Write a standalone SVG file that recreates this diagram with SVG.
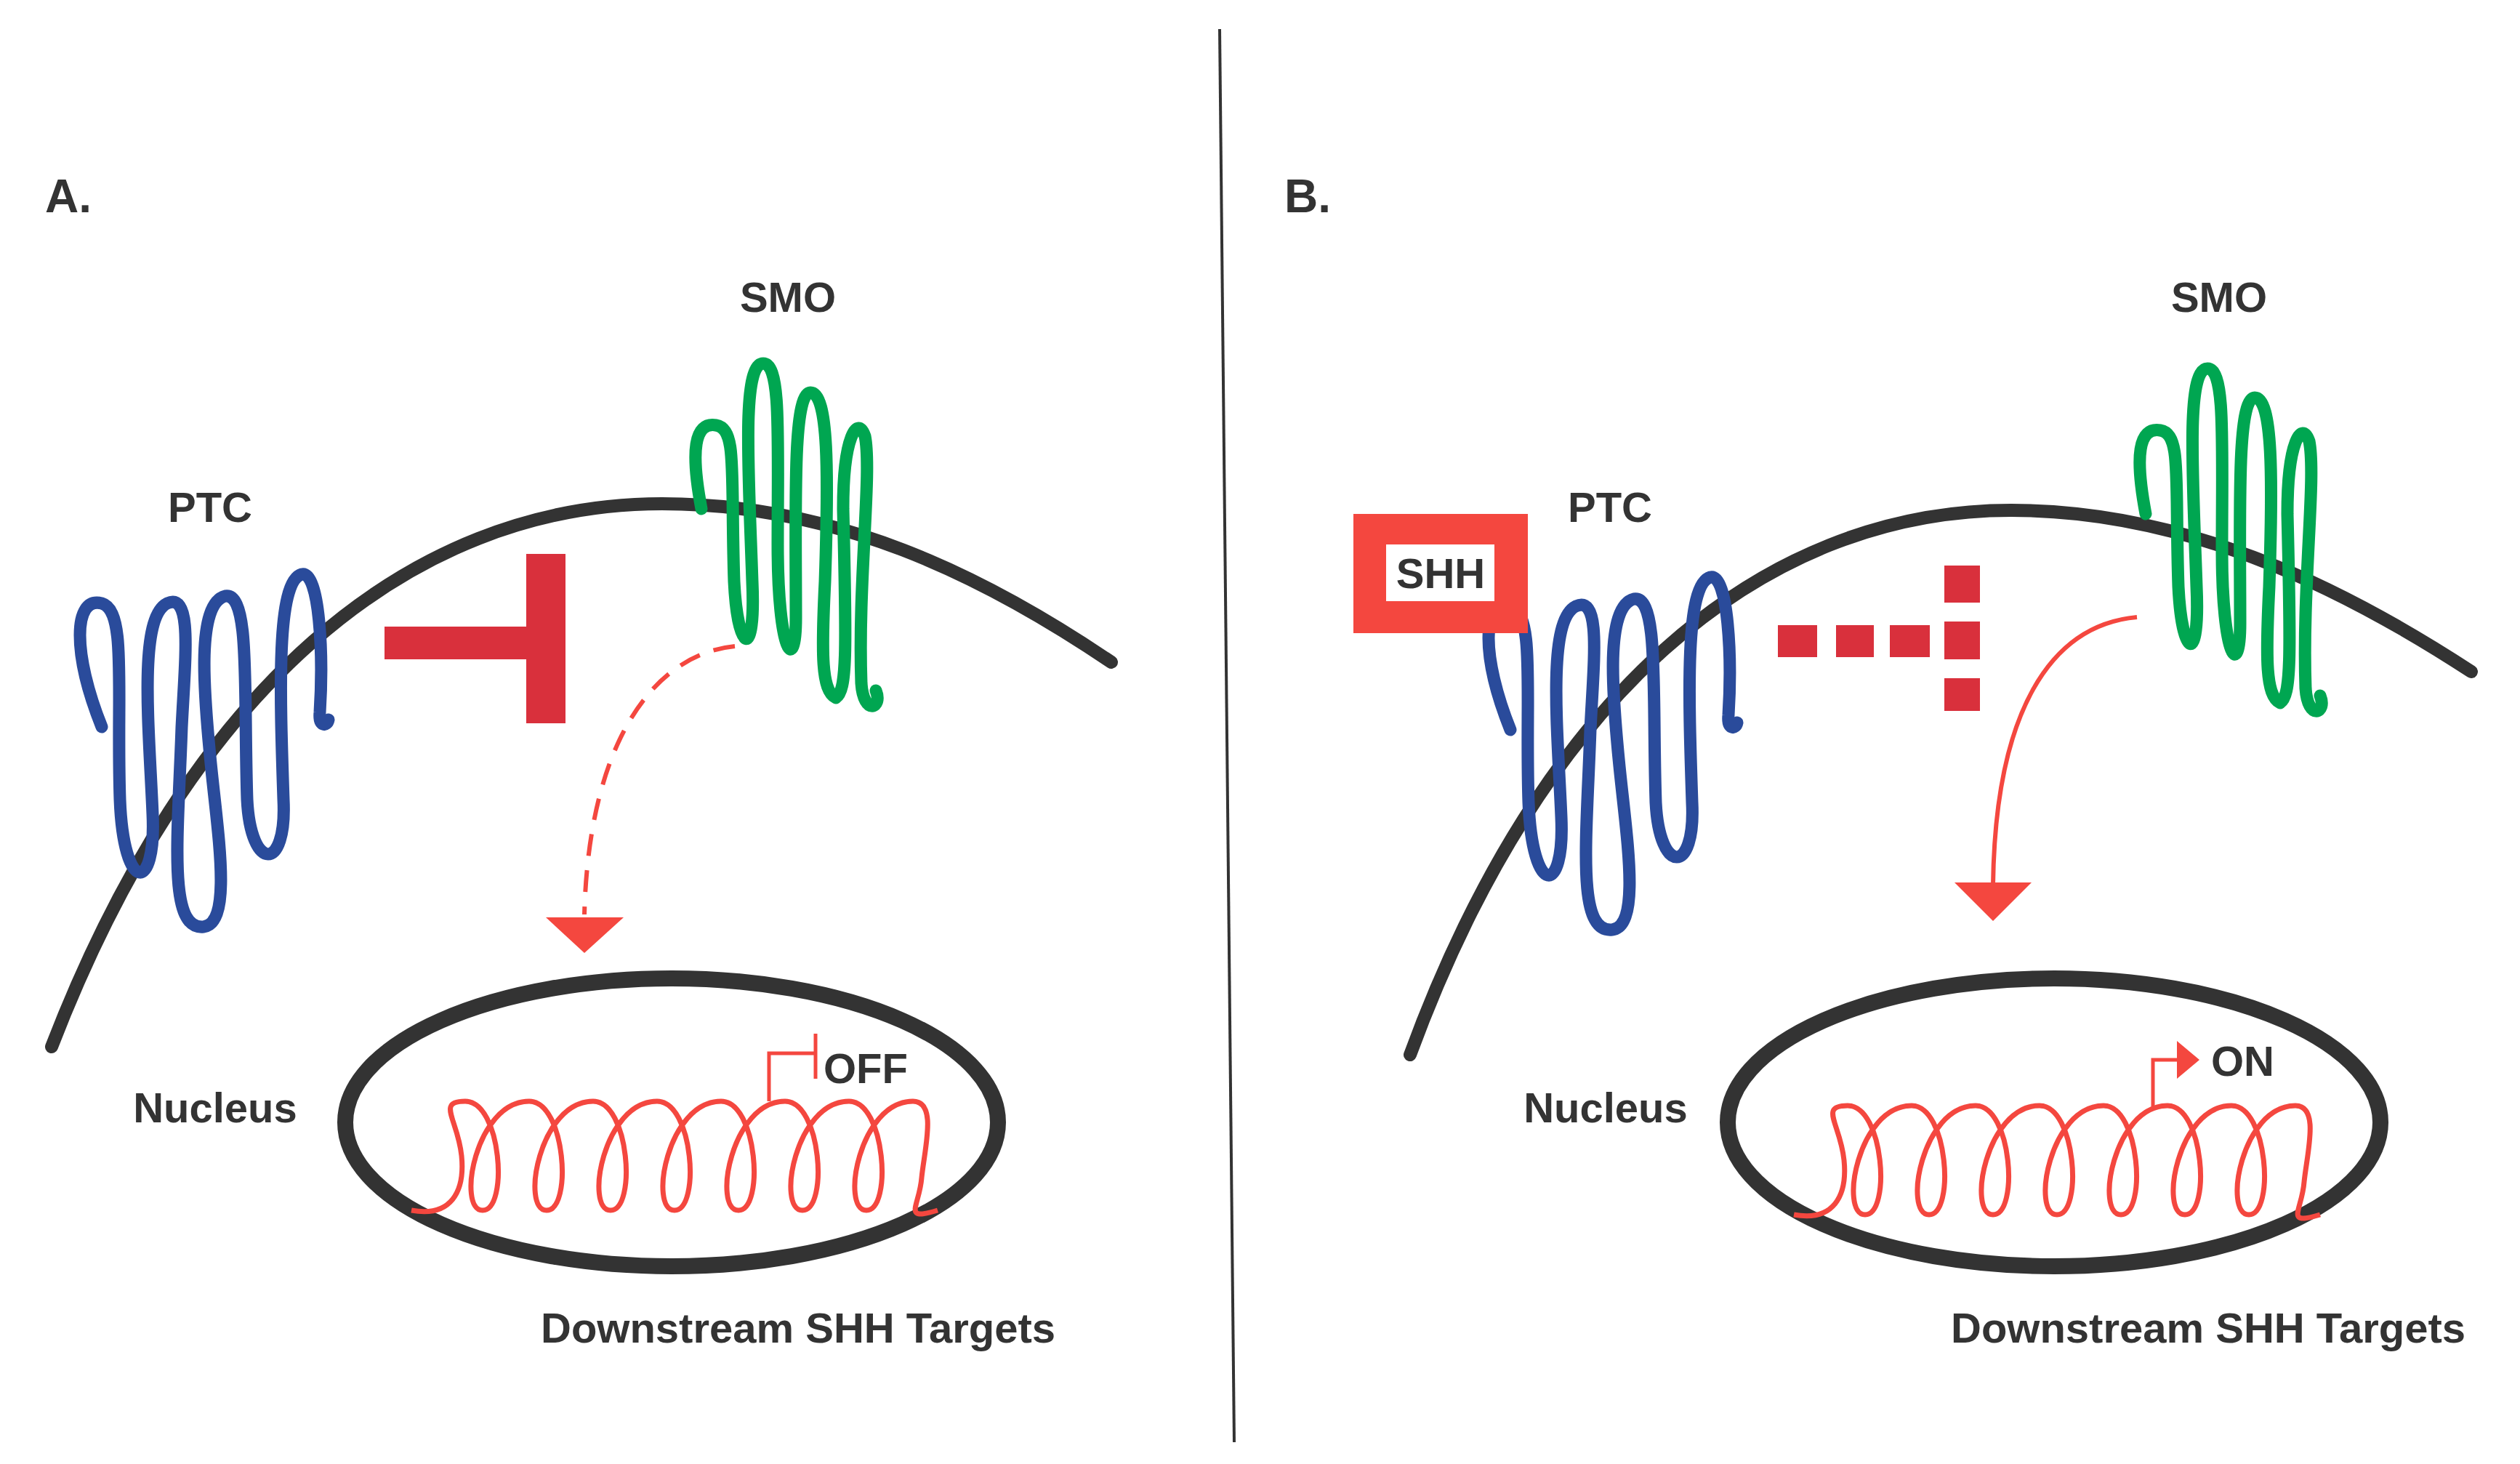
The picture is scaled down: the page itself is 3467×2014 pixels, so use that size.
<svg xmlns="http://www.w3.org/2000/svg" width="3467" height="2014" viewBox="0 0 3467 2014">
<style>
.t{font-family:"Liberation Sans",Arial,sans-serif;font-weight:bold;fill:#333;font-size:58px}
.mem{fill:none;stroke:#333;stroke-width:18;stroke-linecap:round}
.ptc{fill:none;stroke:#2a4b9b;stroke-width:17;stroke-linecap:round;stroke-linejoin:round}
.smo{fill:none;stroke:#00a651;stroke-width:17;stroke-linecap:round;stroke-linejoin:round}
.dna{fill:none;stroke:#f4473f;stroke-width:7}
.nuc{fill:none;stroke:#333;stroke-width:22}
.inh{fill:#d9303c}
</style>
<defs>
<path id="ptcpath" d="M140,1000 C100,900 100,820 140,830 C175,840 160,950 165,1100 C170,1230 215,1230 210,1120 C205,1000 190,850 230,830 C265,815 255,900 250,1000 C245,1150 230,1280 280,1275 C320,1270 300,1150 290,1050 C280,950 270,830 310,820 C345,815 335,950 340,1100 C345,1200 395,1200 390,1100 C385,950 380,800 415,790 C440,785 445,900 440,980 C438,1000 450,1000 452,990"/>
<path id="smopath" d="M965,700 C950,620 955,580 985,585 C1015,590 1005,650 1010,800 C1015,900 1040,910 1035,800 C1030,650 1020,500 1050,500 C1075,500 1070,600 1070,750 C1070,900 1095,930 1095,850 C1095,700 1090,540 1115,540 C1140,540 1140,650 1135,800 C1130,900 1130,950 1150,960 C1165,950 1165,900 1160,700 C1160,600 1180,570 1190,600 C1200,650 1180,800 1185,940 C1188,985 1215,975 1205,950"/>
<path id="dnapath" d="M566,1665 C620,1675 640,1640 635,1590 C630,1540 600,1515 640,1515 c50,0 60,150 24,150 c-36,0 -10,-150 64,-150 c50,0 60,150 24,150 c-36,0 -10,-150 64,-150 c50,0 60,150 24,150 c-36,0 -10,-150 64,-150 c50,0 60,150 24,150 c-36,0 -10,-150 64,-150 c50,0 60,150 24,150 c-36,0 -10,-150 64,-150 c50,0 60,150 24,150 c-36,0 -10,-150 64,-150 c50,0 60,150 24,150 c-36,0 -10,-150 64,-150 C1290,1515 1272,1580 1268,1620 C1265,1660 1240,1680 1290,1665"/>
</defs>
<line x1="1678" y1="40" x2="1698" y2="1984" stroke="#333" stroke-width="4"/>
<g id="panelA">
<text class="t" x="62" y="292" style="font-size:64px">A.</text>
<path id="membraneA" class="mem" d="M71,1440 C260,950 560,693 911,693 C1150,693 1350,790 1529,911"/>
<g id="ptcA"><use href="#ptcpath" class="ptc"/><text class="t" x="289" y="718" text-anchor="middle">PTC</text></g>
<g id="smoA"><use href="#smopath" class="smo"/><text class="t" x="1084" y="429" text-anchor="middle">SMO</text></g>
<g id="inhibA"><rect class="inh" x="529" y="862" width="200" height="45"/><rect class="inh" x="724" y="762" width="54" height="233"/></g>
<g id="nucleusA"><ellipse class="nuc" cx="924" cy="1544" rx="449" ry="198"/><use href="#dnapath" class="dna"/>
<path d="M1058,1515 V1449 H1122 M1122,1422 V1484" fill="none" stroke="#f4473f" stroke-width="5"/>
<text class="t" x="1133" y="1490">OFF</text>
<text class="t" x="296" y="1544" text-anchor="middle">Nucleus</text>
<text class="t" x="744" y="1847">Downstream SHH Targets</text></g>
</g>
<g id="panelB">
<text class="t" x="1767" y="292" style="font-size:64px">B.</text>
<path id="membraneB" class="mem" d="M1940,1451 C2120,960 2420,702 2767,702 C3000,702 3210,800 3400,924"/>
<g id="ptcB"><use href="#ptcpath" class="ptc" transform="translate(1938,4)"/><text class="t" x="2215" y="718" text-anchor="middle">PTC</text></g>
<g id="shh"><rect x="1862" y="707" width="240" height="164" fill="#f4473f"/><rect x="1907" y="749" width="149" height="78" fill="#fff"/><text class="t" x="1982" y="809" text-anchor="middle">SHH</text></g>
<g id="smoB"><use href="#smopath" class="smo" transform="translate(1987,7)"/><text class="t" x="3053" y="429" text-anchor="middle">SMO</text></g>
<g id="inhibB"><rect class="inh" x="2446" y="860" width="54" height="44"/><rect class="inh" x="2526" y="860" width="52" height="44"/><rect class="inh" x="2600" y="860" width="55" height="44"/><rect class="inh" x="2675" y="778" width="49" height="51"/><rect class="inh" x="2675" y="855" width="49" height="52"/><rect class="inh" x="2675" y="933" width="49" height="45"/></g>
<g id="nucleusB"><ellipse class="nuc" cx="2826" cy="1544" rx="449" ry="198"/><use href="#dnapath" class="dna" transform="translate(1902,6)"/>
<path d="M2962,1522 V1458 H3000" fill="none" stroke="#f4473f" stroke-width="5"/><polygon points="2995,1432 3026,1458 2995,1484" fill="#f4473f"/>
<text class="t" x="3042" y="1480">ON</text>
<text class="t" x="2209" y="1544" text-anchor="middle">Nucleus</text>
<text class="t" x="2684" y="1847">Downstream SHH Targets</text></g>
</g>
<g id="connectors">
<path d="M1011,889 C900,900 810,1020 804,1258" fill="none" stroke="#f4473f" stroke-width="6" stroke-dasharray="30,20"/>
<polygon points="751,1262 858,1262 804,1311" fill="#f4473f"/>
<path d="M2940,849 C2820,860 2745,980 2742,1218" fill="none" stroke="#f4473f" stroke-width="6"/>
<polygon points="2689,1214 2795,1214 2742,1267" fill="#f4473f"/>
</g>
</svg>
